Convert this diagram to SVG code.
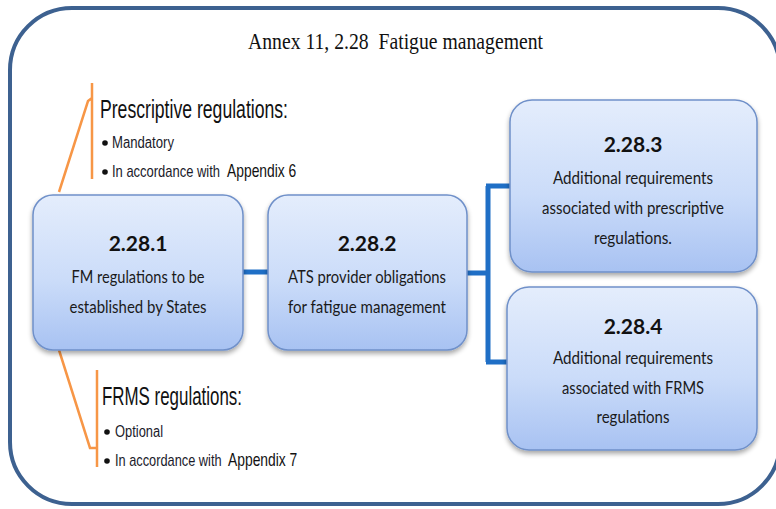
<svg xmlns="http://www.w3.org/2000/svg" width="776" height="509" viewBox="0 0 776 509">
  <defs>
    <linearGradient id="boxFill" x1="0" y1="0" x2="0" y2="1">
      <stop offset="0" stop-color="#e4edfc"/>
      <stop offset="0.55" stop-color="#cbdcf9"/>
      <stop offset="1" stop-color="#a8c2f2"/>
    </linearGradient>
    <filter id="shadow" x="-10%" y="-10%" width="120%" height="130%">
      <feGaussianBlur in="SourceAlpha" stdDeviation="2.5"/>
      <feOffset dx="0" dy="3" result="b"/>
      <feComponentTransfer><feFuncA type="linear" slope="0.35"/></feComponentTransfer>
      <feMerge><feMergeNode/><feMergeNode in="SourceGraphic"/></feMerge>
    </filter>
  </defs>
  <style>
    .frame { fill: #ffffff; stroke: #3d6190; stroke-width: 4; }
    .box { fill: url(#boxFill); stroke: #6f90c9; stroke-width: 1.5; filter: url(#shadow); }
    .num { font-family: Lato, "Noto Sans", sans-serif; font-weight: bold; font-size: 21px; fill: #111; text-anchor: middle; }
    .body { font-family: Lato, "Noto Sans", sans-serif; font-size: 18px; fill: #1a1a1a; text-anchor: middle; }
    .title { font-family: "Liberation Serif", serif; font-size: 23px; fill: #111; }
    .head { font-family: "Liberation Sans", sans-serif; font-size: 25px; fill: #111; }
    .item { font-family: "Liberation Sans", sans-serif; font-size: 16px; fill: #1a1a2a; }
    .big { font-family: "Liberation Sans", sans-serif; font-size: 18px; fill: #111; }
    .link { fill: none; stroke: #1f6fc6; stroke-width: 5; }
    .brace { fill: none; stroke: #f79646; stroke-width: 2.5; }
  </style>

  <!-- outer frame -->
  <rect class="frame" x="10" y="8" width="770" height="496" rx="62" ry="62"/>

  <text class="title" x="248" y="49" textLength="295" lengthAdjust="spacingAndGlyphs" xml:space="preserve">Annex 11, 2.28  Fatigue management</text>

  <!-- connectors -->
  <g id="connectors">
    <path class="link" d="M243 272 H268"/>
    <path class="link" d="M467 273 H488 M488 186 V362 M486 186 H511 M486 362 H509"/>
  </g>

  <!-- regulation callouts (narrow text made by horizontal scaling) -->
  <g id="prescriptive">
    <path class="brace" d="M92 83 V179 M92 98 L88 101 L59 192"/>
    <text class="head" x="100" y="118" textLength="188" lengthAdjust="spacingAndGlyphs">Prescriptive regulations:</text>
    <circle cx="105" cy="143" r="2.8" fill="#111"/>
    <text class="item" x="112" y="148" textLength="62" lengthAdjust="spacingAndGlyphs">Mandatory</text>
    <circle cx="105" cy="172" r="2.8" fill="#111"/>
    <text class="item" transform="translate(112 177) scale(0.81 1)">In accordance with</text>
    <text class="big" transform="translate(227 177) scale(0.77 1)">Appendix 6</text>
  </g>

  <g id="frms">
    <path class="brace" d="M97 370 V467 M59 350 L90 448 H97"/>
    <text class="head" x="102" y="405" textLength="140" lengthAdjust="spacingAndGlyphs">FRMS regulations:</text>
    <circle cx="107" cy="432" r="2.8" fill="#111"/>
    <text class="item" x="115" y="437" textLength="48" lengthAdjust="spacingAndGlyphs">Optional</text>
    <circle cx="107" cy="461" r="2.8" fill="#111"/>
    <text class="item" transform="translate(115 466) scale(0.8 1)">In accordance with</text>
    <text class="big" transform="translate(228 466) scale(0.77 1)">Appendix 7</text>
  </g>

  <!-- nodes -->
  <g id="n2281">
    <rect class="box" x="33" y="195" width="210" height="155" rx="20"/>
    <text class="num" x="138" y="251">2.28.1</text>
    <text class="body" x="138" y="283" textLength="133" lengthAdjust="spacingAndGlyphs">FM regulations to be</text>
    <text class="body" x="138" y="313" textLength="137" lengthAdjust="spacingAndGlyphs">established by States</text>
  </g>

  <g id="n2282">
    <rect class="box" x="268" y="195" width="199" height="155" rx="20"/>
    <text class="num" x="367" y="251">2.28.2</text>
    <text class="body" x="367" y="283" textLength="158" lengthAdjust="spacingAndGlyphs">ATS provider obligations</text>
    <text class="body" x="367" y="313" textLength="158" lengthAdjust="spacingAndGlyphs">for fatigue management</text>
  </g>

  <g id="n2283">
    <rect class="box" x="510" y="100" width="247" height="172" rx="22"/>
    <text class="num" x="633" y="152">2.28.3</text>
    <text class="body" x="633" y="184" textLength="160" lengthAdjust="spacingAndGlyphs">Additional requirements</text>
    <text class="body" x="633" y="214" textLength="182" lengthAdjust="spacingAndGlyphs">associated with prescriptive</text>
    <text class="body" x="633" y="244" textLength="78" lengthAdjust="spacingAndGlyphs">regulations.</text>
  </g>

  <g id="n2284">
    <rect class="box" x="507" y="287" width="250" height="163" rx="22"/>
    <text class="num" x="633" y="334">2.28.4</text>
    <text class="body" x="633" y="364" textLength="160" lengthAdjust="spacingAndGlyphs">Additional requirements</text>
    <text class="body" x="633" y="394" textLength="142" lengthAdjust="spacingAndGlyphs">associated with FRMS</text>
    <text class="body" x="633" y="423" textLength="73" lengthAdjust="spacingAndGlyphs">regulations</text>
  </g>
</svg>
